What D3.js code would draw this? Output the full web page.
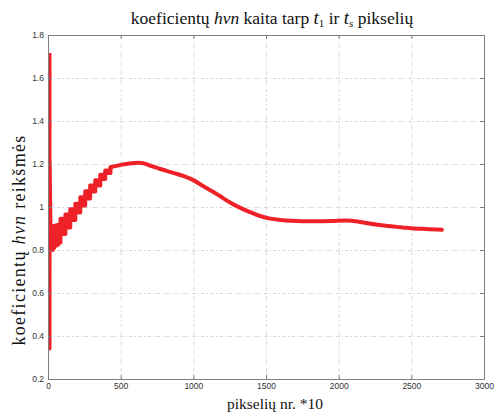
<!DOCTYPE html>
<html>
<head>
<meta charset="utf-8">
<style>
  body { margin: 0; background: #fff; }
  svg { display: block; }
</style>
<script src="https://d3js.org/d3.v7.min.js"></script>
</head>
<body>
<svg id="chart" width="495" height="413"></svg>
<script>
// axis ticks
var xTicks = [0, 500, 1000, 1500, 2000, 2500, 3000];
var yTicks = [0.2, 0.4, 0.6, 0.8, 1, 1.2, 1.4, 1.6, 1.8];

// first pixels: tall spike and the drop right after it
var spikeX = [12, 12, 13, 20];
var spikeY = [1.716, 0.341, 1.21, 0.84];

// oscillating (staircase) part of the curve
var stairX = [20, 24, 28, 33, 38, 44, 50, 56, 62, 70, 78, 86, 101, 120, 135, 153, 170, 188, 204, 222, 239, 256, 273, 290, 307, 325, 342, 360, 376, 394, 410, 430];
var stairY = [0.84, 0.91, 0.80, 0.91, 0.81, 0.912, 0.82, 0.915, 0.825, 0.918, 0.835, 0.945, 0.874, 0.965, 0.905, 0.99, 0.94, 1.015, 0.975, 1.045, 1.007, 1.073, 1.04, 1.10, 1.072, 1.125, 1.10, 1.15, 1.13, 1.17, 1.158, 1.185];

// smooth part
var trendX = [430, 500, 560, 620, 660, 700, 760, 820, 880, 940, 1000, 1060, 1120, 1180, 1250, 1320, 1390, 1460, 1530, 1600, 1670, 1750, 1850, 1950, 2050, 2130, 2200, 2280, 2360, 2440, 2520, 2600, 2710];
var trendY = [1.185, 1.196, 1.202, 1.206, 1.203, 1.193, 1.18, 1.167, 1.155, 1.142, 1.125, 1.1, 1.077, 1.052, 1.022, 0.997, 0.976, 0.958, 0.946, 0.94, 0.936, 0.934, 0.934, 0.935, 0.937, 0.933, 0.924, 0.916, 0.91, 0.905, 0.9, 0.898, 0.894];

var svg = d3.select("#chart");
var margin = {top: 35, right: 11, bottom: 34, left: 48};
var W = +svg.attr("width"), H = +svg.attr("height");
var w = W - margin.left - margin.right, h = H - margin.top - margin.bottom;

var x = d3.scaleLinear().domain([0, 3000]).range([0, w]);
var y = d3.scaleLinear().domain([0.2, 1.8]).range([h, 0]);

var g = svg.append("g").attr("transform", "translate(" + margin.left + "," + margin.top + ")");

// grid
var grid = g.append("g").attr("stroke", "#d9d9d9").attr("stroke-width", 1).attr("stroke-dasharray", "4,2,1,2");
xTicks.slice(1, -1).forEach(function(t) {
  grid.append("line").attr("x1", x(t) + 0.5).attr("x2", x(t) + 0.5).attr("y1", 0).attr("y2", h);
});
yTicks.slice(1, -1).forEach(function(t) {
  grid.append("line").attr("x1", 0).attr("x2", w).attr("y1", y(t) + 0.5).attr("y2", y(t) + 0.5);
});

// data
var red = "#ee2128";
var pts = function(xs, ys) { return xs.map(function(v, i) { return [v, ys[i]]; }); };
var clip = g.append("clipPath").attr("id", "clip").append("rect").attr("width", w).attr("height", h);
var plot = g.append("g").attr("clip-path", "url(#clip)");

var lin = d3.line().x(function(d) { return x(d[0]); }).y(function(d) { return y(d[1]); });
plot.append("path").datum(pts(spikeX, spikeY)).attr("d", lin)
  .attr("fill", "none").attr("stroke", red).attr("stroke-width", 3.5).attr("stroke-linejoin", "round");
plot.append("path").datum(pts(stairX, stairY)).attr("d", lin.curve(d3.curveStepAfter))
  .attr("fill", "none").attr("stroke", red).attr("stroke-width", 4).attr("stroke-linejoin", "round");
plot.append("path").datum(pts(trendX, trendY)).attr("d", lin.curve(d3.curveMonotoneX))
  .attr("fill", "none").attr("stroke", red).attr("stroke-width", 4).attr("stroke-linecap", "round");

// axes, matlab style: ticks inside, on all four sides
var axisStyle = function(sel) {
  sel.selectAll("path").attr("stroke", "#808080");
  sel.selectAll("line").attr("stroke", "#808080");
  sel.selectAll("text").attr("fill", "#333").style("font-family", "Arial, 'Liberation Sans', sans-serif").style("font-size", "8.5px");
};
g.append("g").attr("transform", "translate(0," + h + ")")
  .call(d3.axisBottom(x).tickValues(xTicks).tickFormat(d3.format("d")).tickSizeInner(-4).tickSizeOuter(0).tickPadding(4))
  .call(axisStyle);
g.append("g")
  .call(d3.axisLeft(y).tickValues(yTicks).tickFormat(function(d) { return d === 1 ? "1" : d3.format(".1f")(d); }).tickSizeInner(-4).tickSizeOuter(0).tickPadding(4))
  .call(axisStyle);
g.append("g")
  .call(d3.axisTop(x).tickValues(xTicks).tickFormat("").tickSizeInner(-4).tickSizeOuter(0))
  .call(axisStyle);
g.append("g").attr("transform", "translate(" + w + ",0)")
  .call(d3.axisRight(y).tickValues(yTicks).tickFormat("").tickSizeInner(-4).tickSizeOuter(0))
  .call(axisStyle);

// titles
var serif = "'Liberation Serif', 'DejaVu Serif', serif";
var title = svg.append("text").attr("x", 272).attr("y", 24)
  .attr("text-anchor", "middle").style("font-family", serif).style("font-size", "17.5px").attr("fill", "#111");
title.append("tspan").text("koeficientų ");
title.append("tspan").style("font-style", "italic").text("hvn");
title.append("tspan").text(" kaita tarp ");
title.append("tspan").style("font-style", "italic").style("font-size", "19px").text("t");
title.append("tspan").attr("dy", 3).style("font-size", "11px").text("1");
title.append("tspan").attr("dy", -3).text(" ir ");
title.append("tspan").style("font-style", "italic").style("font-size", "19px").text("t");
title.append("tspan").attr("dy", 3).style("font-size", "11px").style("font-style", "italic").text("s");
title.append("tspan").attr("dy", -3).text(" pikselių");

var ylab = svg.append("text").attr("transform", "translate(25,240) rotate(-90)")
  .attr("text-anchor", "middle").style("font-family", serif).style("font-size", "18px")
  .style("letter-spacing", "1.3px").attr("fill", "#111");
ylab.append("tspan").text("koeficientų ");
ylab.append("tspan").style("font-style", "italic").text("hvn");
ylab.append("tspan").text(" reikšmės");

svg.append("text").attr("x", 275).attr("y", 409).attr("text-anchor", "middle")
  .style("font-family", serif).style("font-size", "15.5px").attr("fill", "#111").text("pikselių nr. *10");
</script>
</body>
</html>
